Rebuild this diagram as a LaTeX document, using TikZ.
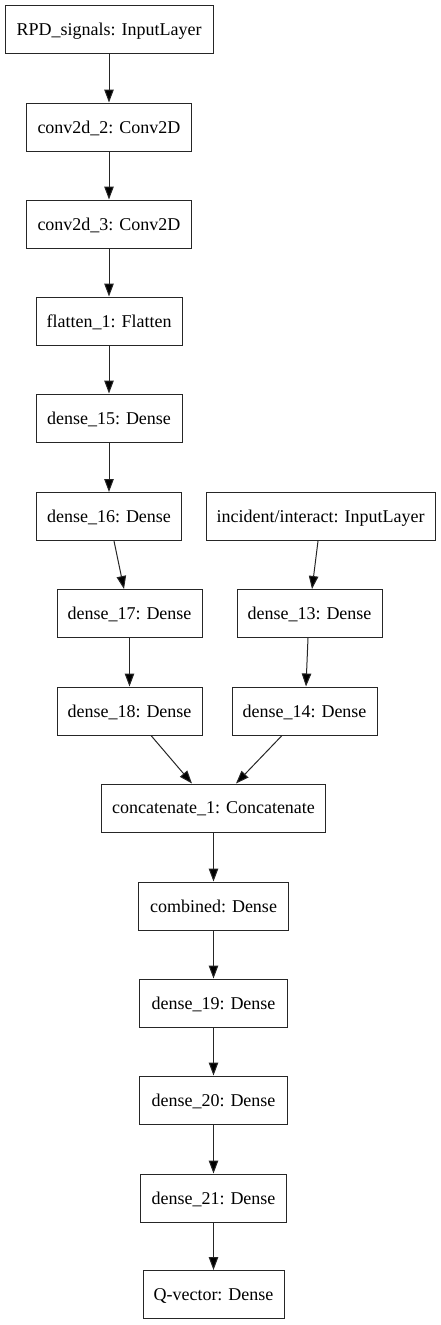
\documentclass[tikz,border=0pt]{standalone}
\usepackage{fontspec}
\setmainfont{Liberation Serif}
\usetikzlibrary{arrows.meta}
\begin{document}
\begin{tikzpicture}[x=1pt,y=-1pt,
  layer/.style={draw=black!85,line width=1pt,fill=white,inner sep=0pt,minimum height=48pt,text depth=0pt,font=\fontsize{18}{20}\selectfont},
  edge/.style={draw=black!85,line width=1pt,-{Triangle[length=13pt,width=9.5pt,fill=black]}}]
\useasboundingbox (0,0) rectangle (441,1325);
\node[layer,minimum width=208pt] (rpd) at (109,29) {RPD\_signals: InputLayer};
\node[layer,minimum width=165pt] (c2) at (109,127) {conv2d\_2: Conv2D};
\node[layer,minimum width=165pt] (c3) at (109,224) {conv2d\_3: Conv2D};
\node[layer,minimum width=146pt] (fl) at (109,321) {flatten\_1: Flatten};
\node[layer,minimum width=146pt] (d15) at (109,418) {dense\_15: Dense};
\node[layer,minimum width=145pt] (d16) at (109,516.5) {dense\_16: Dense};
\node[layer,minimum width=229pt] (inc) at (320.5,516.5) {incident/interact: InputLayer};
\node[layer,minimum width=145pt] (d17) at (129.5,613.5) {dense\_17: Dense};
\node[layer,minimum width=145pt] (d13) at (309.5,613.5) {dense\_13: Dense};
\node[layer,minimum width=145pt] (d18) at (129.5,711) {dense\_18: Dense};
\node[layer,minimum width=145pt] (d14) at (304.5,711) {dense\_14: Dense};
\node[layer,minimum width=224pt] (cat) at (213.5,808) {concatenate\_1: Concatenate};
\node[layer,minimum width=150pt] (comb) at (213.5,906) {combined: Dense};
\node[layer,minimum width=148pt] (d19) at (213.5,1003) {dense\_19: Dense};
\node[layer,minimum width=148pt] (d20) at (213.5,1100) {dense\_20: Dense};
\node[layer,minimum width=146pt] (d21) at (213.5,1198) {dense\_21: Dense};
\node[layer,minimum width=141pt] (q) at (213.5,1294.5) {Q-vector: Dense};
\draw[edge] (rpd.south) -- (c2.north);
\draw[edge] (c2.south) -- (c3.north);
\draw[edge] (c3.south) -- (fl.north);
\draw[edge] (fl.south) -- (d15.north);
\draw[edge] (d15.south) -- (d16.north);
\draw[edge] ([xshift=5pt]d16.south) -- ([xshift=-5.5pt]d17.north);
\draw[edge] (d17.south) -- (d18.north);
\draw[edge] ([xshift=-2.5pt]inc.south) -- ([xshift=2.5pt]d13.north);
\draw[edge] ([xshift=-1.5pt]d13.south) -- ([xshift=1.5pt]d14.north);
\draw[edge] ([xshift=21.5pt]d18.south) -- ([xshift=-21.5pt]cat.north);
\draw[edge] ([xshift=-22.5pt]d14.south) -- ([xshift=22.5pt]cat.north);
\draw[edge] (cat.south) -- (comb.north);
\draw[edge] (comb.south) -- (d19.north);
\draw[edge] (d19.south) -- (d20.north);
\draw[edge] (d20.south) -- (d21.north);
\draw[edge] (d21.south) -- (q.north);
\end{tikzpicture}
\end{document}
